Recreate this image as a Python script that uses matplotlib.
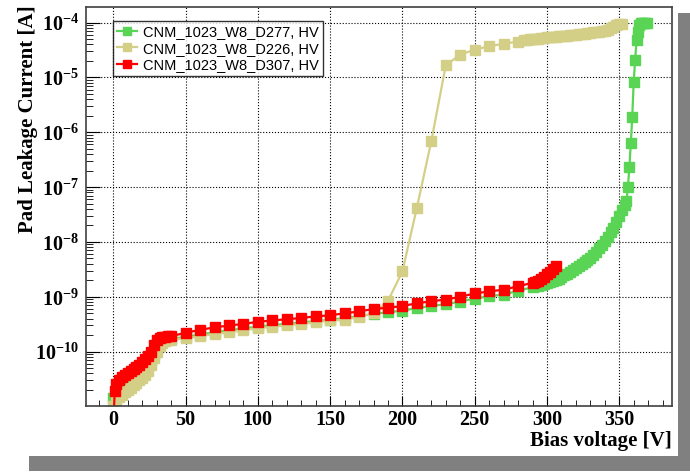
import numpy as np
import matplotlib
matplotlib.use('Agg')
import matplotlib.pyplot as plt
from matplotlib.patches import Rectangle
from matplotlib.font_manager import FontProperties
from matplotlib.ticker import LogLocator, MultipleLocator, NullFormatter, FuncFormatter

# ---- data ----
# D277 (green)
v_d277 = list(range(0, 42, 2)) + list(range(50, 300, 10)) + list(range(292, 356, 2)) + list(range(355, 370))
i_d277 = [1.4e-11, 1.7e-11, 1.95e-11, 2.15e-11, 2.35e-11, 2.55e-11, 2.8e-11, 3.1e-11, 3.4e-11, 3.8e-11,
          4.2e-11, 4.8e-11, 5.6e-11, 6.8e-11, 9.0e-11, 1.2e-10, 1.45e-10, 1.6e-10, 1.65e-10, 1.7e-10, 1.72e-10,
          1.85e-10, 2.05e-10, 2.25e-10, 2.45e-10, 2.65e-10, 2.85e-10, 3.05e-10, 3.2e-10, 3.4e-10, 3.6e-10,
          3.8e-10, 4.1e-10, 4.4e-10, 4.9e-10, 5.2e-10, 5.6e-10, 6.2e-10, 6.8e-10, 7.3e-10, 8.2e-10,
          9.3e-10, 1.02e-9, 1.1e-9, 1.28e-9, 1.5e-9,
          1.55e-9, 1.6e-9, 1.65e-9, 1.7e-9, 1.75e-9, 1.85e-9, 1.95e-9, 2.05e-9, 2.15e-9, 2.25e-9,
          2.45e-9, 2.65e-9, 2.85e-9, 3.05e-9, 3.3e-9, 3.6e-9, 3.9e-9, 4.3e-9, 4.7e-9, 5.2e-9,
          5.8e-9, 6.6e-9, 7.6e-9, 8.8e-9, 1.05e-8, 1.25e-8, 1.5e-8, 1.8e-8, 2.3e-8, 3.0e-8,
          3.8e-8, 4.7e-8,
          5.5e-8, 1.0e-7, 2.3e-7, 6.3e-7, 1.9e-6, 8.3e-6, 2.1e-5, 4.8e-5, 6.7e-5, 9.0e-5,
          9.8e-5, 1.0e-4, 1.0e-4, 1.0e-4, 1.0e-4]

# D226 (tan)
v_d226 = list(range(0, 42, 2)) + list(range(50, 290, 10)) + list(range(284, 354, 2))
i_d226 = [1.0e-11, 1.3e-11, 1.5e-11, 1.65e-11, 1.8e-11, 2.0e-11, 2.2e-11, 2.45e-11, 2.7e-11, 3.0e-11,
          3.3e-11, 3.8e-11, 4.5e-11, 5.6e-11, 7.5e-11, 1.0e-10, 1.25e-10, 1.45e-10, 1.55e-10, 1.6e-10, 1.65e-10,
          1.75e-10, 1.9e-10, 2.1e-10, 2.25e-10, 2.45e-10, 2.65e-10, 2.85e-10, 3.0e-10, 3.2e-10, 3.4e-10,
          3.7e-10, 3.8e-10, 4.3e-10, 5.0e-10, 8.4e-10, 2.9e-9, 4.2e-8, 6.9e-7, 1.66e-5, 2.6e-5,
          3.2e-5, 3.7e-5, 4.1e-5, 4.5e-5,
          4.8e-5, 4.9e-5, 4.95e-5, 5.0e-5, 5.05e-5, 5.1e-5, 5.2e-5, 5.3e-5, 5.35e-5, 5.4e-5,
          5.5e-5, 5.55e-5, 5.6e-5, 5.7e-5, 5.75e-5, 5.8e-5, 5.9e-5, 6.0e-5, 6.05e-5, 6.1e-5,
          6.2e-5, 6.3e-5, 6.4e-5, 6.5e-5, 6.6e-5, 6.7e-5, 6.8e-5, 6.9e-5, 7.1e-5, 7.4e-5,
          7.8e-5, 8.3e-5, 8.9e-5, 9.3e-5, 9.5e-5]

# D307 (red)
v_d307 = [0, 1] + list(range(2, 42, 2)) + list(range(50, 300, 10)) + list(range(292, 308, 2))
i_d307 = [5.0e-12, 1.9e-11, 2.6e-11, 3.1e-11, 3.4e-11, 3.7e-11, 4.0e-11, 4.4e-11, 4.8e-11, 5.3e-11, 5.8e-11,
          6.4e-11, 7.2e-11, 8.3e-11, 1.0e-10, 1.3e-10, 1.65e-10, 1.8e-10, 1.85e-10, 1.87e-10, 1.9e-10, 1.92e-10,
          2.2e-10, 2.5e-10, 2.76e-10, 3.0e-10, 3.2e-10, 3.5e-10, 3.7e-10, 3.9e-10, 4.1e-10, 4.4e-10,
          4.6e-10, 5.0e-10, 5.4e-10, 6.0e-10, 6.3e-10, 6.8e-10, 7.6e-10, 8.3e-10, 8.9e-10, 1.0e-9,
          1.15e-9, 1.25e-9, 1.35e-9, 1.55e-9, 1.8e-9,
          1.85e-9, 1.95e-9, 2.1e-9, 2.3e-9, 2.55e-9, 2.85e-9, 3.2e-9, 3.6e-9]

names = ['CNM_1023_W8_D277, HV', 'CNM_1023_W8_D226, HV', 'CNM_1023_W8_D307, HV']
colors = ['#59d454', '#d4cf87', '#ff0000']

plt.rcParams['mathtext.fontset'] = 'custom'
plt.rcParams['mathtext.rm'] = 'Liberation Serif'
plt.rcParams['mathtext.bf'] = 'Liberation Serif:bold'

fig = plt.figure(figsize=(6.9, 4.73), dpi=100)
W, H = 690, 473
# ROOT-like canvas with grey shadow
fig.add_artist(Rectangle((29 / W, 2 / H), (W - 29) / W, (471 - 13) / H, transform=fig.transFigure,
                         facecolor='#808080', edgecolor='none', zorder=-2))
fig.add_artist(Rectangle((0, (H - 456) / H), 678 / W, 456 / H, transform=fig.transFigure,
                         facecolor='white', edgecolor='none', zorder=-1))

ax = fig.add_axes([86 / W, (H - 406) / H, (672 - 86) / W, (406 - 7) / H])
ax.set_facecolor('white')

for v, cur, lab, col in zip([v_d277, v_d226, v_d307], [i_d277, i_d226, i_d307], names, colors):
    ax.plot(v, cur, color=col, lw=1.6, marker='s', ms=6.8, mec=col, mfc=col, label=lab)

ax.set_yscale('log')
ax.set_xlim(-18.9, 386.5)
ax.set_ylim(1.02e-11, 1.92e-4)

ax.xaxis.set_major_locator(MultipleLocator(50))
ax.xaxis.set_minor_locator(MultipleLocator(10))
ax.yaxis.set_major_locator(LogLocator(base=10, numticks=20))
ax.yaxis.set_minor_locator(LogLocator(base=10, subs=range(2, 10), numticks=20))
ax.yaxis.set_minor_formatter(NullFormatter())


def yfmt(val, pos):
    e = int(round(np.log10(val)))
    return r'$\mathbf{10^{%d}}$' % e


ax.yaxis.set_major_formatter(FuncFormatter(yfmt))

tickfont = FontProperties(family='Liberation Serif', weight='bold', size=14.5)
ax.tick_params(which='both', direction='in', top=False, right=False, colors='black')
ax.tick_params(axis='x', which='major', length=7.5, pad=3, labelsize=14.5)
ax.tick_params(axis='x', which='minor', length=4)
ax.tick_params(axis='y', which='major', length=10, pad=5, labelsize=14.5)
ax.tick_params(axis='y', which='minor', length=5)
for t in ax.get_xticklabels():
    t.set_fontproperties(tickfont)

ax.grid(True, which='major', color='black', ls=':', lw=0.8)
for s in ax.spines.values():
    s.set_linewidth(1.2)
    s.set_color('#404040')

ax.set_xlabel('Bias voltage [V]', loc='right', fontfamily='Liberation Serif', fontweight='bold', fontsize=15)
ax.xaxis.set_label_coords(1.0, -0.063)
ax.set_ylabel('Pad Leakage Current [A]', loc='top', fontfamily='Liberation Serif', fontweight='bold', fontsize=15)
ax.yaxis.set_label_coords(-0.082, 1.005)

leg = ax.legend(loc='upper left', bbox_to_anchor=(0.0466, 0.965), borderaxespad=0,
                prop={'family': 'Liberation Sans', 'size': 10.5}, frameon=True, fancybox=False,
                numpoints=1, handlelength=1.4, handletextpad=0.4, borderpad=0.25, labelspacing=0.2,
                markerscale=0.75)
leg.get_frame().set_edgecolor('black')
leg.get_frame().set_linewidth(1.0)

fig.savefig('out.png', dpi=100)
